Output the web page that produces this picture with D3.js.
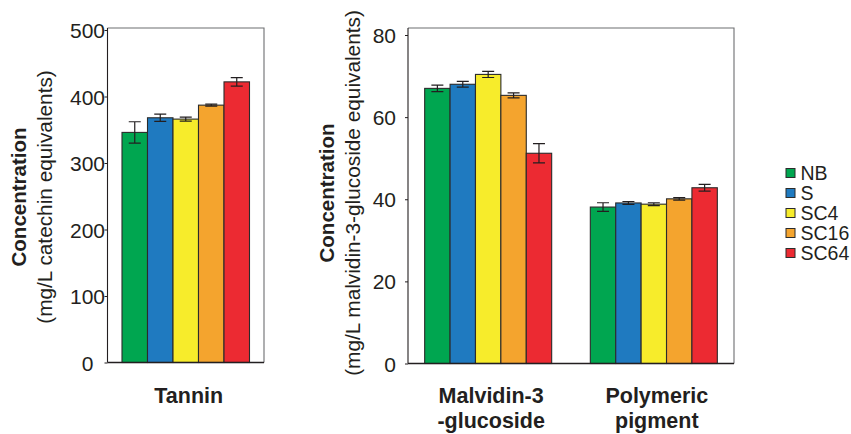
<!DOCTYPE html>
<html>
<head>
<meta charset="utf-8">
<script src="https://cdn.jsdelivr.net/npm/d3@7"></script>
<style>
  body { margin: 0; background: #fff; }
  text { font-family: Arial, "Liberation Sans", sans-serif; fill: #231f20; }
</style>
</head>
<body>
<div id="chart"></div>
<script>
var series = ["NB", "S", "SC4", "SC16", "SC64"];
var colors = ["#00a650", "#1f7ac0", "#f7ec2b", "#f4a42e", "#ec2a32"];

// left panel
var tanninCats = ["Tannin"];
var tanninValues = [[346, 368, 366, 387, 422]];
var tanninErrors = [[16, 5.5, 3, 1.5, 6.5]];
var tanninTicks = [0, 100, 200, 300, 400, 500];

// right panel
var pigmentCats = [["Malvidin-3", "-glucoside"], ["Polymeric", "pigment"]];
var pigmentValues = [
  [67.0, 68.0, 70.4, 65.3, 51.2],
  [38.1, 39.1, 38.8, 40.1, 42.8]
];
var pigmentErrors = [
  [0.8, 0.7, 0.75, 0.6, 2.35],
  [1.05, 0.35, 0.35, 0.3, 0.8]
];
var pigmentTicks = [0, 20, 40, 60, 80];

var svg = d3.select("#chart").append("svg")
  .attr("width", 851)
  .attr("height", 434);

function drawPanel(opt) {
  var g = svg.append("g");
  var y = d3.scaleLinear()
    .domain([0, opt.maxTick])
    .range([opt.bottom, opt.tickTop]);

  var x0 = d3.scalePoint()
    .domain(d3.range(opt.cats.length))
    .range([opt.left, opt.right])
    .padding(opt.pad);

  var x1 = d3.scaleBand()
    .domain(series)
    .range([-opt.groupW / 2, opt.groupW / 2]);

  // frame (top / right)
  g.append("path")
    .attr("d", "M" + opt.left + "," + opt.frameTop + "H" + opt.right + "V" + opt.bottom)
    .style("fill", "none")
    .style("stroke", "#6d6e71")
    .style("stroke-width", 1.1);

  // bars
  opt.values.forEach(function(vals, ci) {
    var grp = g.append("g")
      .attr("transform", "translate(" + x0(ci) + ",0)");
    grp.selectAll("rect")
      .data(vals)
      .enter().append("rect")
      .attr("x", function(d, i) { return x1(series[i]); })
      .attr("y", function(d) { return y(d); })
      .attr("width", x1.bandwidth())
      .attr("height", function(d) { return y(0) - y(d); })
      .style("fill", function(d, i) { return colors[i]; })
      .style("stroke", "#2b2b2b")
      .style("stroke-width", 1.1);

    var errs = opt.errors[ci];
    vals.forEach(function(v, i) {
      var cx = x1(series[i]) + x1.bandwidth() / 2;
      var e = errs[i];
      grp.append("path")
        .attr("d", "M" + cx + "," + y(v + e) + "V" + y(v - e) +
                   "M" + (cx - 6) + "," + y(v + e) + "H" + (cx + 6) +
                   "M" + (cx - 6) + "," + y(v - e) + "H" + (cx + 6))
        .style("fill", "none")
        .style("stroke", "#231f20")
        .style("stroke-width", 1.2);
    });

    // category label
    var lines = [].concat(opt.cats[ci]);
    var lab = g.append("text")
      .attr("x", x0(ci) + 3)
      .attr("y", 403)
      .attr("text-anchor", "middle")
      .style("font-size", "21.5px")
      .style("font-weight", "bold");
    lines.forEach(function(l, li) {
      lab.append("tspan")
        .attr("x", x0(ci) + 3)
        .attr("dy", li === 0 ? 0 : 24.5)
        .text(l);
    });
  });

  // y axis
  var axis = d3.axisLeft(y)
    .tickValues(opt.ticks)
    .tickSize(3)
    .tickPadding(0)
    .tickFormat(d3.format("d"));
  var ax = g.append("g")
    .attr("transform", "translate(" + opt.left + ",0)")
    .call(axis);
  ax.select(".domain").remove();
  ax.selectAll(".tick line").style("stroke", "#231f20");
  ax.selectAll(".tick text")
    .attr("x", opt.labelX)
    .attr("text-anchor", opt.labelAnchor)
    .attr("dy", "0.36em")
    .style("font-size", "21px")
    .style("font-family", "Arial, 'Liberation Sans', sans-serif")
    .style("fill", "#231f20");

  g.append("line")
    .attr("x1", opt.left).attr("x2", opt.left)
    .attr("y1", opt.bottom).attr("y2", opt.frameTop)
    .style("stroke", "#231f20")
    .style("stroke-width", 1.1);
  g.append("line")
    .attr("x1", opt.left).attr("x2", opt.right)
    .attr("y1", opt.bottom).attr("y2", opt.bottom)
    .style("stroke", "#231f20")
    .style("stroke-width", 1.3);

  // y title
  var cy = opt.titleY;
  g.append("text")
    .attr("transform", "translate(" + opt.titleX + "," + cy + ") rotate(-90)")
    .attr("text-anchor", "middle")
    .style("font-size", "20.5px")
    .style("font-weight", "bold")
    .text("Concentration");
  g.append("text")
    .attr("transform", "translate(" + (opt.titleX + 26.5) + "," + cy + ") rotate(-90)")
    .attr("text-anchor", "middle")
    .style("font-size", "20.8px")
    .text(opt.unit);
}

drawPanel({
  cats: tanninCats, values: tanninValues, errors: tanninErrors, ticks: tanninTicks,
  maxTick: 500, left: 107.5, right: 264, pad: 0.5, groupW: 127.5,
  bottom: 362.5, tickTop: 30, frameTop: 28,
  labelX: -20, labelAnchor: "middle",
  titleX: 25.5, titleY: 197,
  unit: "(mg/L catechin equivalents)"
});

drawPanel({
  cats: pigmentCats, values: pigmentValues, errors: pigmentErrors, ticks: pigmentTicks,
  maxTick: 80, left: 408, right: 734, pad: 0.484, groupW: 127,
  bottom: 363.5, tickTop: 35, frameTop: 28,
  labelX: -12, labelAnchor: "end",
  titleX: 333.5, titleY: 193,
  unit: "(mg/L malvidin-3-glucoside equivalents)"
});

// legend
var legend = svg.append("g")
  .attr("transform", "translate(786,173)");
var rows = legend.selectAll("g")
  .data(series)
  .enter().append("g")
  .attr("transform", function(d, i) { return "translate(0," + (i * 20) + ")"; });
rows.append("rect")
  .attr("x", 0).attr("y", -4.5)
  .attr("width", 9).attr("height", 9)
  .style("fill", function(d, i) { return colors[i]; })
  .style("stroke", "#2b2b2b")
  .style("stroke-width", 1);
rows.append("text")
  .attr("x", 14.5)
  .attr("dy", "0.36em")
  .style("font-size", "19.5px")
  .text(function(d) { return d; });
</script>
</body>
</html>
